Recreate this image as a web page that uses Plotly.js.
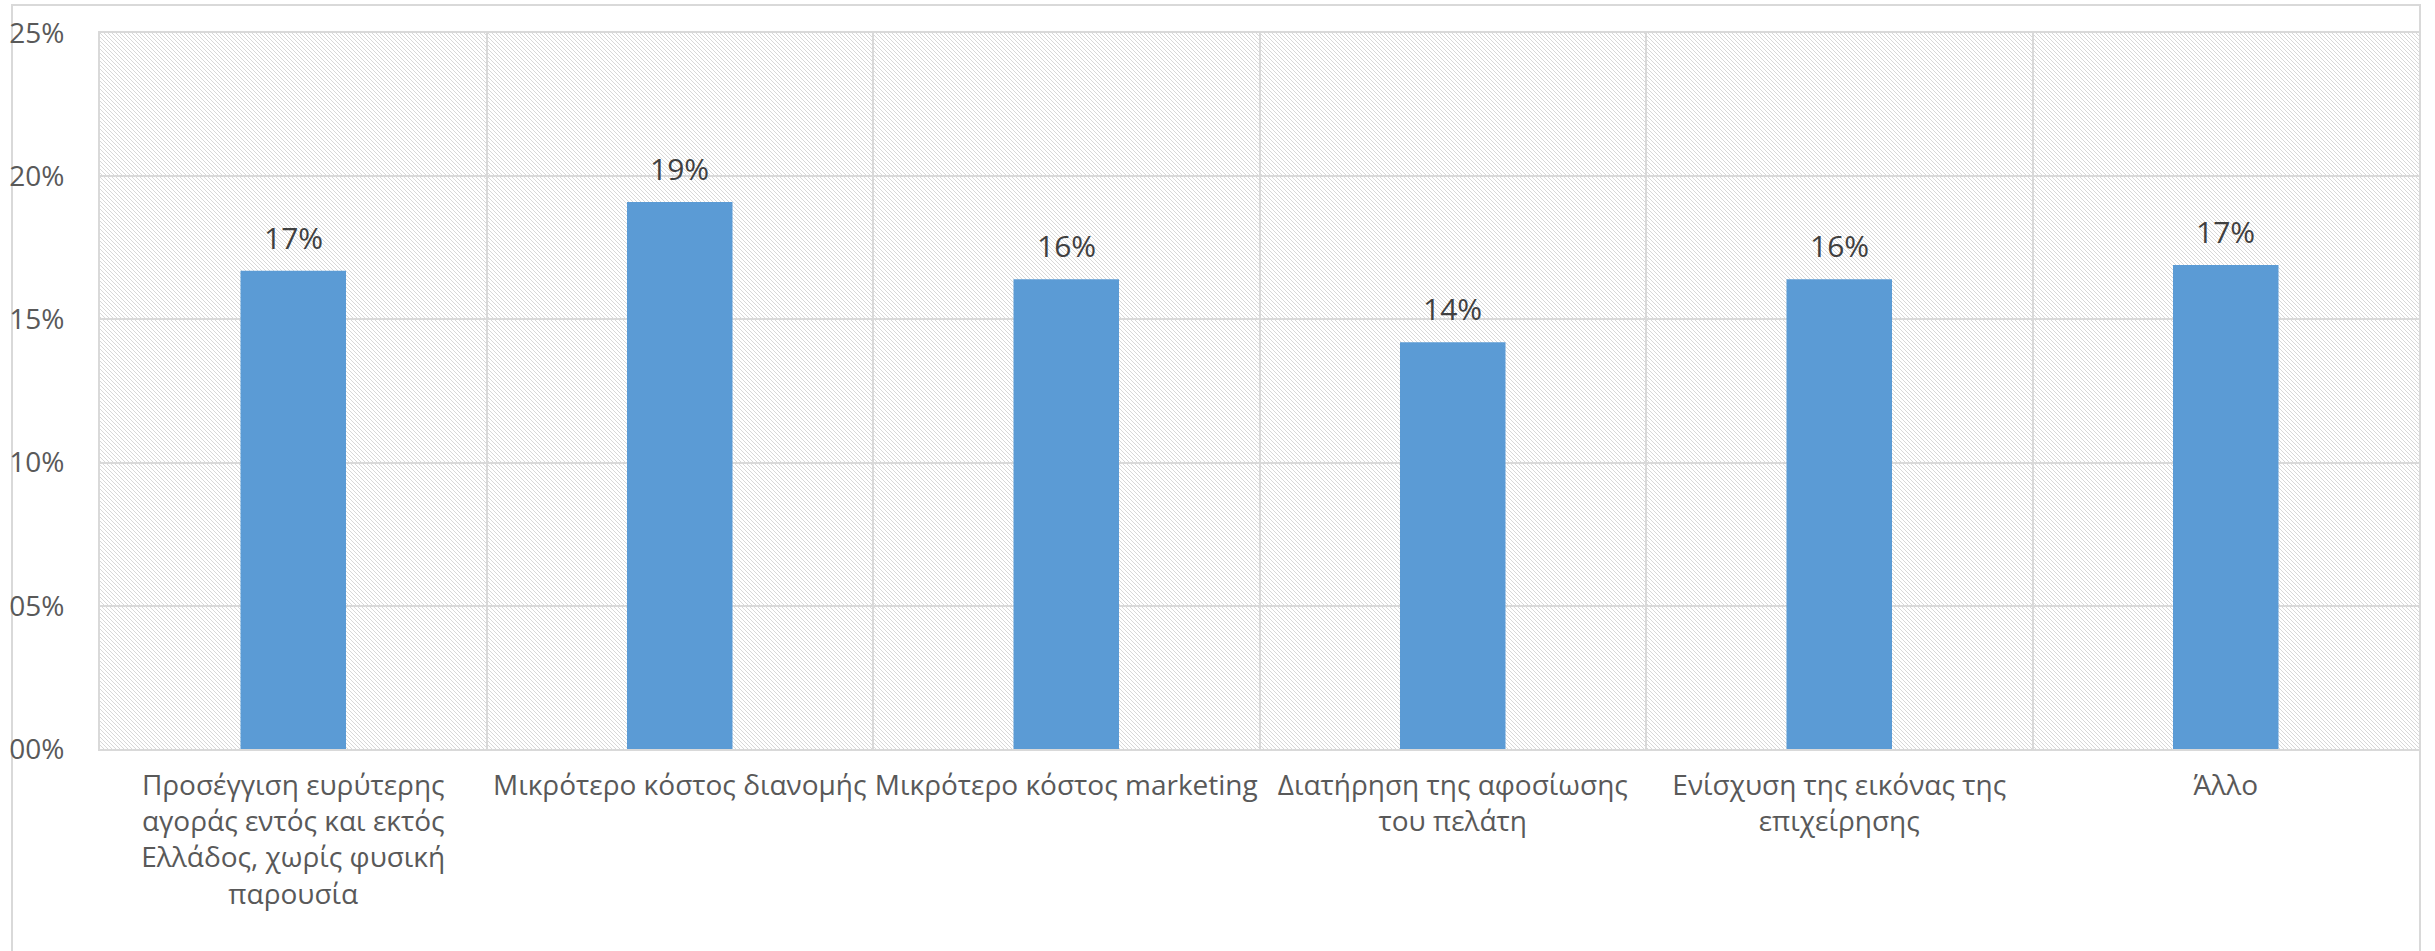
<!DOCTYPE html>
<html>
<head>
<meta charset="utf-8">
<script src="https://cdn.plot.ly/plotly-3.0.1.min.js"></script>
<style>
  html, body { margin: 0; padding: 0; background: #ffffff; }
  #chart { width: 2435px; height: 951px; }
</style>
</head>
<body>
<div id="chart"></div>
<script>
// ---- Data ----
const categories = [
  "Προσέγγιση ευρύτερης<br>αγοράς εντός και εκτός<br>Ελλάδος, χωρίς φυσική<br>παρουσία",
  "Μικρότερο κόστος διανομής",
  "Μικρότερο κόστος marketing",
  "Διατήρηση της αφοσίωσης<br>του πελάτη",
  "Ενίσχυση της εικόνας της<br>επιχείρησης",
  "Άλλο"
];
const values = [0.167, 0.191, 0.164, 0.142, 0.164, 0.169];
const yTickValues = [0, 0.05, 0.10, 0.15, 0.20, 0.25];
const yTickLabels = ["00%", "05%", "10%", "15%", "20%", "25%"];

// ---- Layout geometry ----
const W = 2435, H = 951;
const M = { l: 100, r: 16, t: 33, b: 202 };
const plotW = W - M.l - M.r, plotH = H - M.t - M.b;

// Hatched background for the plot area (downward diagonal lines)
function hatchImage(w, h) {
  const c = document.createElement('canvas');
  c.width = w; c.height = h;
  const ctx = c.getContext('2d');
  const img = ctx.createImageData(w, h);
  const d = img.data;
  for (let y = 0; y < h; y++) {
    for (let x = 0; x < w; x++) {
      const k = (((x - y) % 4) + 4) % 4;
      const i = (y * w + x) * 4;
      const v = (k === 0) ? 216 : 255;
      d[i] = v; d[i + 1] = v; d[i + 2] = v; d[i + 3] = 255;
    }
  }
  ctx.putImageData(img, 0, 0);
  return c.toDataURL('image/png');
}

const textColor = '#595959';
const gridColor = '#d9d9d9';

const trace = {
  type: 'bar',
  x: categories,
  y: values,
  marker: { color: '#5B9BD5', line: { width: 0 } },
  hoverinfo: 'skip'
};

const annotations = categories.map((c, i) => ({
  x: c,
  y: values[i],
  xref: 'x',
  yref: 'y',
  text: Math.round(values[i] * 100) + '%',
  showarrow: false,
  yanchor: 'bottom',
  yshift: 11,
  font: { family: 'Open Sans', size: 30, color: '#404040' }
}));

const layout = {
  width: W,
  height: H,
  autosize: false,
  margin: { l: M.l, r: M.r, t: M.t, b: M.b, pad: 0 },
  paper_bgcolor: '#ffffff',
  plot_bgcolor: 'rgba(0,0,0,0)',
  font: { family: 'Open Sans', size: 28, color: textColor },
  showlegend: false,
  bargap: 0.727,
  xaxis: {
    type: 'category',
    tickson: 'boundaries',
    tickangle: 0,
    showgrid: true,
    gridcolor: gridColor,
    gridwidth: 2,
    showline: true,
    linecolor: gridColor,
    linewidth: 2,
    mirror: true,
    ticks: '',
    ticklabelstandoff: 10,
    tickfont: { family: 'Open Sans', size: 28, color: textColor },
    fixedrange: true
  },
  yaxis: {
    range: [0, 0.25],
    tickvals: yTickValues,
    ticktext: yTickLabels,
    showgrid: true,
    gridcolor: gridColor,
    gridwidth: 2,
    zeroline: false,
    showline: true,
    linecolor: gridColor,
    linewidth: 2,
    mirror: true,
    ticks: '',
    ticklabelstandoff: 28,
    tickfont: { family: 'Open Sans', size: 28, color: textColor },
    fixedrange: true
  },
  images: [{
    source: hatchImage(plotW, plotH),
    xref: 'paper', yref: 'paper',
    x: 0, y: 1, sizex: 1, sizey: 1,
    xanchor: 'left', yanchor: 'top',
    sizing: 'stretch',
    layer: 'below'
  }],
  shapes: [{
    type: 'rect',
    xref: 'paper', yref: 'paper',
    x0: (12 - M.l) / plotW,
    x1: (2420 - M.l) / plotW,
    y0: -0.6,
    y1: 1 + (M.t - 5) / plotH,
    line: { color: gridColor, width: 2 },
    fillcolor: 'rgba(0,0,0,0)',
    layer: 'below'
  }],
  annotations: annotations
};

Plotly.newPlot('chart', [trace], layout, { displayModeBar: false, staticPlot: true });
</script>
</body>
</html>
